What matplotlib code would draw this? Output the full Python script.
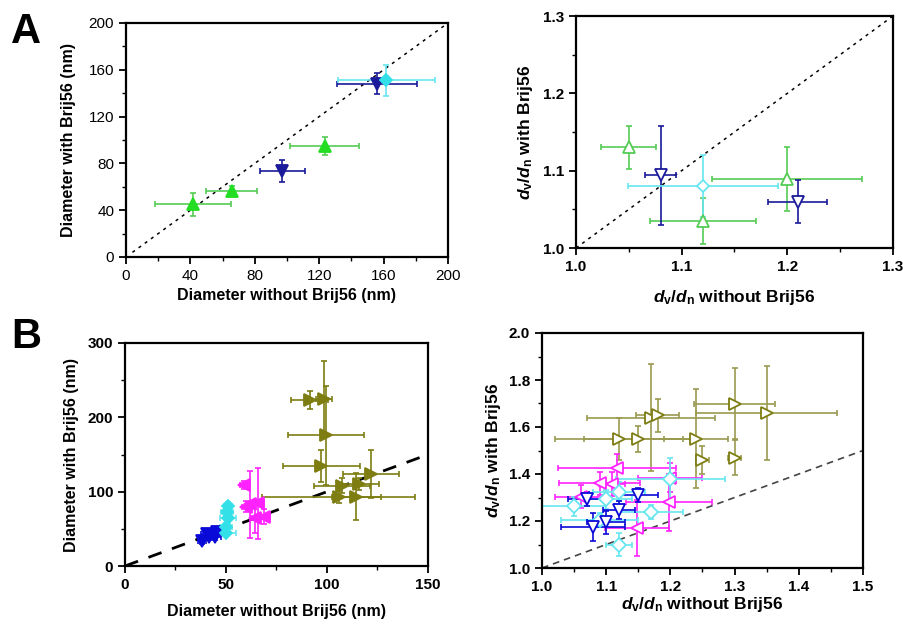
import numpy as np
import matplotlib
matplotlib.use("Agg")
import matplotlib.pyplot as plt
from matplotlib.ticker import MultipleLocator, FormatStrFormatter

plt.rcParams['font.family'] = ['Liberation Sans', 'DejaVu Sans']
plt.rcParams['font.weight'] = 'bold'
plt.rcParams['mathtext.fontset'] = 'custom'
plt.rcParams['mathtext.rm'] = 'Liberation Sans:bold'
plt.rcParams['mathtext.it'] = 'Liberation Sans:italic:bold'
plt.rcParams['mathtext.bf'] = 'Liberation Sans:bold'

# ---- panel A, diameters ----
aGreenX = [41.8, 65.6, 123.5]
aGreenY = [45, 56.4, 94.9]
aGreenXe = [23.5, 16, 21.5]
aGreenYe = [10, 4, 8]
aNavyX = [97, 156]
aNavyY = [73.5, 148]
aNavyXe = [14, 25]
aNavyYe = [9, 9]
aCyanX = [161.7]
aCyanY = [151]
aCyanXe = [30]
aCyanYe = [13.5]

# ---- panel A, dv/dn ----
aPdGreenX = [1.05, 1.12, 1.20]
aPdGreenY = [1.130, 1.035, 1.089]
aPdGreenXe = [0.026, 0.05, 0.071]
aPdGreenYe = [0.028, 0.03, 0.041]
aPdNavyX = [1.08, 1.21]
aPdNavyY = [1.094, 1.06]
aPdNavyXe = [0.015, 0.028]
aPdNavyYe = [0.064, 0.028]
aPdCyanX = [1.12]
aPdCyanY = [1.08]
aPdCyanXe = [0.071]
aPdCyanYe = [0.04]

# ---- panel B, diameters ----
bBlueX = [38, 40.8, 41.8, 44.6, 45.4]
bBlueY = [33.7, 43, 39.5, 39.5, 46]
bBlueXe = [2, 3, 2, 3, 2]
bBlueYe = [4, 5, 4, 5, 6]
bCyanX = [50.9, 50.4, 50.9, 50, 50]
bCyanY = [80.8, 73, 64, 53, 45]
bCyanXe = [2, 3, 4, 3, 5]
bCyanYe = [5, 5, 6, 5, 4]
bMagX = [59, 62, 65.6, 64.4, 69, 60]
bMagY = [109, 83, 84.4, 64, 66.5, 80]
bMagXe = [2, 2, 3, 2, 3, 2]
bMagYe = [5, 45, 48, 20, 10, 8]
bOliveX = [91.4, 98.6, 99.5, 97.1, 107.4, 115.6, 121.8, 105.7, 114.5]
bOliveY = [222.8, 225, 175.6, 134.7, 107.8, 110.5, 124, 92.5, 93.4]
bOliveXe = [9, 4, 18.6, 19, 14, 10, 14, 38, 12]
bOliveYe = [12, 51, 67, 22, 10, 8, 32, 8, 32]

# ---- panel B, dv/dn ----
bPdOliveX = [1.30, 1.35, 1.17, 1.18, 1.12, 1.15, 1.24, 1.25, 1.30]
bPdOliveY = [1.70, 1.66, 1.64, 1.65, 1.55, 1.55, 1.55, 1.46, 1.47]
bPdOliveXe = [0.063, 0.11, 0.10, 0.034, 0.10, 0.085, 0.05, 0.01, 0.01]
bPdOliveYe = [0.15, 0.20, 0.228, 0.07, 0.09, 0.055, 0.21, 0.06, 0.075]
bPdMagX = [1.117, 1.09, 1.109, 1.06, 1.20, 1.198, 1.148]
bPdMagY = [1.424, 1.36, 1.357, 1.304, 1.385, 1.279, 1.17]
bPdMagXe = [0.092, 0.063, 0.02, 0.04, 0.05, 0.067, 0.05]
bPdMagYe = [0.06, 0.05, 0.05, 0.05, 0.06, 0.12, 0.12]
bPdNavyX = [1.07, 1.15, 1.12, 1.08, 1.10]
bPdNavyY = [1.293, 1.31, 1.247, 1.174, 1.194]
bPdNavyXe = [0.03, 0.03, 0.025, 0.05, 0.03]
bPdNavyYe = [0.03, 0.03, 0.04, 0.06, 0.05]
bPdCyanX = [1.05, 1.09, 1.10, 1.12, 1.17, 1.20, 1.12]
bPdCyanY = [1.262, 1.205, 1.293, 1.325, 1.24, 1.38, 1.10]
bPdCyanXe = [0.05, 0.06, 0.04, 0.04, 0.05, 0.085, 0.02]
bPdCyanYe = [0.04, 0.03, 0.04, 0.04, 0.03, 0.09, 0.05]

GREEN = '#22dd22'
GREEN_E = '#55cc55'
NAVY = '#1a1a9a'
BLUE = '#0a0ad8'
CYAN = '#33e0e8'
CYAN_E = '#66e6f0'
MAG = '#ff22ff'
OLIVE = '#7d7d12'

W, H = 904.0, 624.0
fig = plt.figure(figsize=(W / 100, H / 100), dpi=100)

def box(l, t, r, b):
    return fig.add_axes([l / W, (H - b) / H, (r - l) / W, (b - t) / H])

def style(ax, bold=True):
    for s in ax.spines.values():
        s.set_linewidth(1.6)
    ax.tick_params(which='major', direction='out', length=5, width=1.3, labelsize=11)
    ax.tick_params(which='minor', direction='out', length=3, width=1.0)
    if not bold:
        for t in ax.get_xticklabels() + ax.get_yticklabels():
            t.set_fontweight('normal')

def eb(ax, x, y, xe, ye, col, ecol, mk, filled, ms=8):
    ax.errorbar(x, y, xerr=xe, yerr=ye, fmt='none', ecolor=ecol, elinewidth=1.2,
                capsize=2.5, capthick=1.2, zorder=2)
    ax.plot(x, y, linestyle='none', marker=mk, markersize=ms,
            markerfacecolor=col if filled else 'white', markeredgecolor=col,
            markeredgewidth=1.3, zorder=3)

# A left
ax1 = box(126, 23, 448, 257)
ax1.plot([4, 200], [4, 200], linestyle=(0, (2, 3)), color='black', lw=1.1, zorder=1)
eb(ax1, aGreenX, aGreenY, aGreenXe, aGreenYe, GREEN, GREEN_E, '^', True, ms=9)
eb(ax1, aNavyX, aNavyY, aNavyXe, aNavyYe, NAVY, NAVY, 'v', True, ms=9)
eb(ax1, aCyanX, aCyanY, aCyanXe, aCyanYe, CYAN, CYAN_E, 'D', True, ms=6)
ax1.set_xlim(0, 200)
ax1.set_ylim(0, 200)
ax1.xaxis.set_major_locator(MultipleLocator(40))
ax1.xaxis.set_minor_locator(MultipleLocator(20))
ax1.yaxis.set_major_locator(MultipleLocator(40))
ax1.yaxis.set_minor_locator(MultipleLocator(20))
style(ax1, bold=False)
ax1.set_xlabel('Diameter without Brij56 (nm)', fontsize=11.5, fontweight='bold', labelpad=4)
ax1.set_ylabel('Diameter with Brij56 (nm)', fontsize=11.5, fontweight='bold', labelpad=9)

# A right
ax2 = box(576, 16, 893, 248)
ax2.plot([1.0, 1.3], [1.0, 1.3], linestyle=(0, (2, 3)), color='black', lw=1.1, zorder=1)
eb(ax2, aPdGreenX, aPdGreenY, aPdGreenXe, aPdGreenYe, GREEN_E, GREEN_E, '^', False)
eb(ax2, aPdNavyX, aPdNavyY, aPdNavyXe, aPdNavyYe, NAVY, NAVY, 'v', False)
eb(ax2, aPdCyanX, aPdCyanY, aPdCyanXe, aPdCyanYe, CYAN_E, CYAN_E, 'D', False, ms=6)
ax2.set_xlim(1.0, 1.3)
ax2.set_ylim(1.0, 1.3)
ax2.xaxis.set_major_locator(MultipleLocator(0.1))
ax2.xaxis.set_minor_locator(MultipleLocator(0.05))
ax2.yaxis.set_major_locator(MultipleLocator(0.1))
ax2.yaxis.set_minor_locator(MultipleLocator(0.05))
ax2.xaxis.set_major_formatter(FormatStrFormatter('%.1f'))
ax2.yaxis.set_major_formatter(FormatStrFormatter('%.1f'))
style(ax2)
ax2.set_xlabel(r'$d_\mathrm{v}/d_\mathrm{n}$ without Brij56', fontsize=12.5,
               fontweight='bold', labelpad=10)
ax2.set_ylabel(r'$d_\mathrm{v}/d_\mathrm{n}$ with Brij56', fontsize=12.5,
               fontweight='bold', labelpad=6)

# B left
ax3 = box(125, 343, 428, 566)
ax3.plot([0, 150], [0, 150], linestyle=(0, (5, 4)), color='black', lw=2.0, zorder=1)
eb(ax3, bBlueX, bBlueY, bBlueXe, bBlueYe, BLUE, BLUE, 'v', True)
eb(ax3, bCyanX, bCyanY, bCyanXe, bCyanYe, CYAN, CYAN_E, 'D', True, ms=6)
eb(ax3, bMagX, bMagY, bMagXe, bMagYe, MAG, MAG, '<', True)
eb(ax3, bOliveX, bOliveY, bOliveXe, bOliveYe, OLIVE, OLIVE, '>', True)
ax3.set_xlim(0, 150)
ax3.set_ylim(0, 300)
ax3.xaxis.set_major_locator(MultipleLocator(50))
ax3.xaxis.set_minor_locator(MultipleLocator(25))
ax3.yaxis.set_major_locator(MultipleLocator(100))
ax3.yaxis.set_minor_locator(MultipleLocator(50))
style(ax3)
ax3.set_xlabel('Diameter without Brij56 (nm)', fontsize=11.5, fontweight='bold', labelpad=9)
ax3.set_ylabel('Diameter with Brij56 (nm)', fontsize=11.5, fontweight='bold', labelpad=6)

# B right
ax4 = box(542, 333, 863, 568)
ax4.plot([1.0, 1.5], [1.0, 1.5], linestyle=(0, (4, 3)), color='#444444', lw=1.2, zorder=1)
eb(ax4, bPdOliveX, bPdOliveY, bPdOliveXe, bPdOliveYe, OLIVE, '#9a9a50', '>', False, ms=9)
eb(ax4, bPdMagX, bPdMagY, bPdMagXe, bPdMagYe, MAG, MAG, '<', False, ms=9)
eb(ax4, bPdCyanX, bPdCyanY, bPdCyanXe, bPdCyanYe, CYAN_E, CYAN_E, 'D', False, ms=7)
eb(ax4, bPdNavyX, bPdNavyY, bPdNavyXe, bPdNavyYe, BLUE, BLUE, 'v', False, ms=9)
ax4.set_xlim(1.0, 1.5)
ax4.set_ylim(1.0, 2.0)
ax4.xaxis.set_major_locator(MultipleLocator(0.1))
ax4.xaxis.set_minor_locator(MultipleLocator(0.05))
ax4.yaxis.set_major_locator(MultipleLocator(0.2))
ax4.yaxis.set_minor_locator(MultipleLocator(0.1))
ax4.xaxis.set_major_formatter(FormatStrFormatter('%.1f'))
ax4.yaxis.set_major_formatter(FormatStrFormatter('%.1f'))
style(ax4)
ax4.set_xlabel(r'$d_\mathrm{v}/d_\mathrm{n}$ without Brij56', fontsize=12.5,
               fontweight='bold', labelpad=1)
ax4.set_ylabel(r'$d_\mathrm{v}/d_\mathrm{n}$ with Brij56', fontsize=12.5,
               fontweight='bold', labelpad=4)

fig.text(11 / W, 1 - 43 / H, 'A', fontsize=30, fontweight='bold')
fig.text(11 / W, 1 - 348 / H, 'B', fontsize=30, fontweight='bold')

fig.savefig('out.png', dpi=100)
